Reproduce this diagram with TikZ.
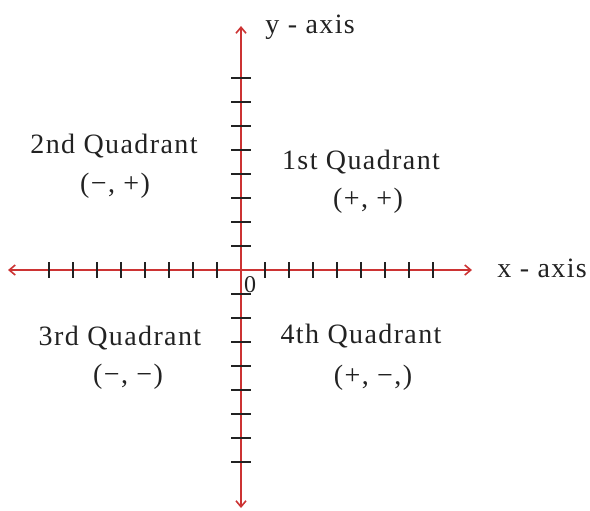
\documentclass[tikz,border=0pt]{standalone}
\usepackage{fontspec}
\setmainfont{Liberation Serif}[LetterSpace=5]
\usetikzlibrary{arrows.meta}
\definecolor{axisred}{RGB}{204,51,51}
\definecolor{inkgray}{RGB}{34,34,34}
\tikzstyle{axis} = [axisred, line width=0.8pt, {Straight Barb[length=3pt,width=5pt]}-{Straight Barb[length=3pt,width=5pt]}]
\tikzstyle{tickmark} = [inkgray, line width=0.9pt]
\tikzstyle{quadtext} = [text=inkgray, inner sep=0pt, anchor=base, font=\fontsize{14}{16}\selectfont]
\tikzstyle{axislabel} = [text=inkgray, inner sep=0pt, anchor=base west, font=\fontsize{14}{16}\selectfont]

\begin{document}
\begin{tikzpicture}[x=0.5pt, y=-0.5pt]
\useasboundingbox (0,0) rectangle (590,510);

% Axes
\coordinate (origin) at (241,270);
\coordinate (xleft) at (8,270);
\coordinate (xright) at (472,270);
\coordinate (ytop) at (241,26);
\coordinate (ybottom) at (241,508);
\draw [axis] (xleft) -- (xright);
\draw [axis] (ybottom) -- (ytop);

% Tick marks
\foreach \k in {-8,...,-1,1,2,...,8} {
  \draw [tickmark] (241+\k*24,262) -- ++(0,16);
  \draw [tickmark] (231,270+\k*24) -- ++(20,0);
}

% Axis labels
\node (ylabel) [axislabel] at (265,33) {y - axis};
\node (xlabel) [axislabel] at (497,277) {x - axis};
\node (zero) [text=inkgray, inner sep=0pt, font=\fontsize{12}{14}\selectfont] at (250,285) {0};

% Quadrants
\node (second) [quadtext] at (114,153) {2nd Quadrant};
\node (secondsign) [quadtext] at (115,192) {(−, +)};
\node (first) [quadtext] at (361,169) {1st Quadrant};
\node (firstsign) [quadtext] at (368,207) {(+, +)};
\node (third) [quadtext] at (120,345) {3rd Quadrant};
\node (thirdsign) [quadtext] at (128,383) {(−, −)};
\node (fourth) [quadtext] at (361,343) {4th Quadrant};
\node (fourthsign) [quadtext] at (373,384) {(+, −,)};

\end{tikzpicture}
\end{document}
